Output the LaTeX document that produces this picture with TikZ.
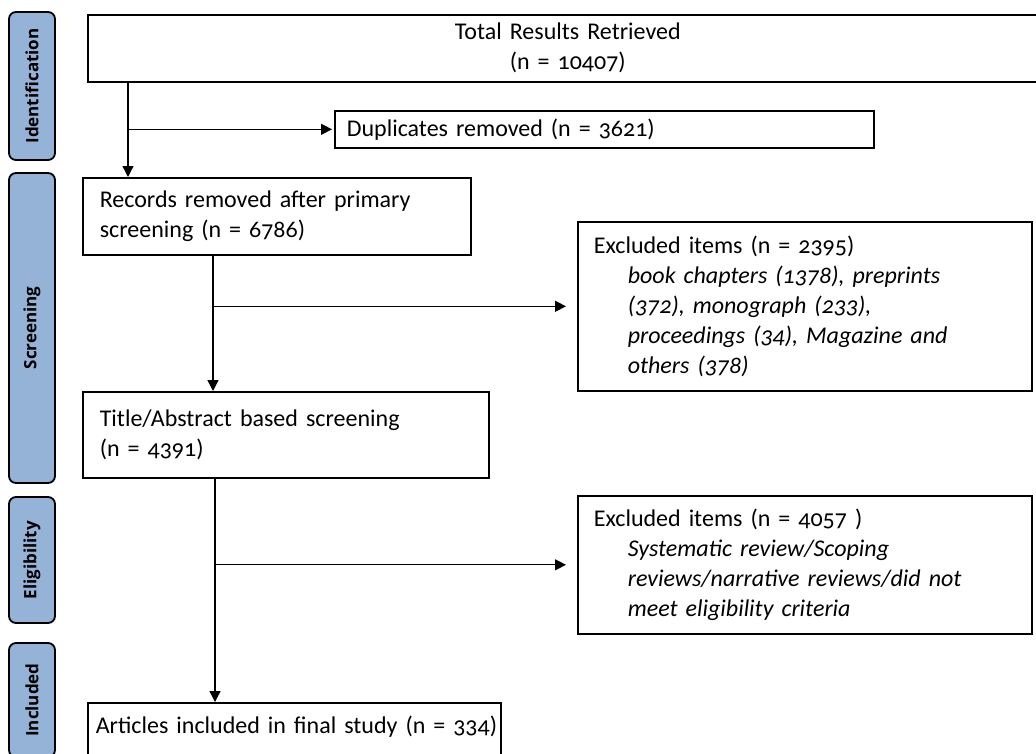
\documentclass[tikz,border=0pt]{standalone}
\usepackage{fontspec}
\setmainfont{Carlito}[Numbers=OldStyle]
\newfontfamily\stagefont{Open Sans}
\usetikzlibrary{arrows.meta}
\definecolor{stageblue}{RGB}{149, 179, 215}
\newcommand{\boxfont}{\fontsize{24}{30}\selectfont\spaceskip=5pt plus 1pt\relax}
\newcommand{\exclline}[1]{\hspace*{34pt}\textit{#1}}

\begin{document}
\begin{tikzpicture}[x=1pt, y=-1pt,
  box/.style={draw, line width=1.6pt, anchor=north west, inner ysep=0pt, align=left, font=\boxfont},
  stage/.style={draw, line width=1.8pt, fill=stageblue, rounded corners=7pt, rotate=90, minimum height=46pt, inner sep=0pt, font=\stagefont\bfseries\fontsize{17}{20}\selectfont},
  arrow/.style={-{Triangle[length=11pt, width=11pt]}, line width=1.3pt}]
  \clip (0,0) rectangle (1036,753);
  \fill[white] (0,0) rectangle (1036,753);

  % Stages
  \node[stage, minimum width=148pt] (ident) at (32,86) {Identification};
  \node[stage, minimum width=310pt] (screen) at (32,328) {Screening};
  \node[stage, minimum width=126pt] (elig) at (32,560) {Eligibility};
  \node[stage, minimum width=114pt] (incl) at (32,700) {Included};

  % Boxes
  \node[box, minimum width=960pt, minimum height=67pt, inner xsep=0pt, text width=960pt, align=center] (total) at (87,14) {Total Results Retrieved\\(n = 10407)};
  \node[box, minimum width=539pt, minimum height=37pt, inner xsep=12pt, text width=515pt] (dupl) at (334,110) {Duplicates removed (n = 3621)};
  \node[box, minimum width=388pt, minimum height=77pt, inner xsep=17pt, text width=354pt] (records) at (82,177) {Records removed after primary\\screening (n = 6786)};
  \node[box, minimum width=454pt, minimum height=169pt, inner xsep=16pt, text width=422pt] (excl1) at (577,221) {Excluded items (n = 2395)\\
    \exclline{book chapters (1378), preprints}\\
    \exclline{(372), monograph (233),}\\
    \exclline{proceedings (34), Magazine and}\\
    \exclline{others (378)}};
  \node[box, minimum width=406pt, minimum height=86pt, inner xsep=17pt, text width=372pt] (title) at (82,391) {Title/Abstract based screening\\(n = 4391)};
  \node[box, minimum width=454pt, minimum height=138pt, inner xsep=16pt, text width=422pt] (excl2) at (577,495) {Excluded items (n = 4057 )\\
    \exclline{Systematic review/Scoping}\\
    \exclline{reviews/narrative reviews/did not}\\
    \exclline{meet eligibility criteria}};
  \node[box, minimum width=413pt, minimum height=58pt, inner xsep=8pt, text width=397pt, text depth=15pt] (final) at (87,702) {\mbox{Articles included in final study (n = 334)}};

  % Connectors
  \coordinate (c1) at (128,0);
  \coordinate (c2) at (213,0);
  \coordinate (c3) at (215,0);
  \draw[arrow] (total.south -| c1) -- (records.north -| c1);
  \draw[arrow, shorten >=2pt] (c1 |- dupl.west) -- (dupl.west);
  \draw[arrow] (records.south -| c2) -- (title.north -| c2);
  \draw[arrow, shorten >=11pt] (c2 |- excl1.west) -- (excl1.west);
  \draw[arrow] (title.south -| c3) -- (final.north -| c3);
  \draw[arrow, shorten >=11pt] (c3 |- excl2.west) -- (excl2.west);
\end{tikzpicture}
\end{document}
